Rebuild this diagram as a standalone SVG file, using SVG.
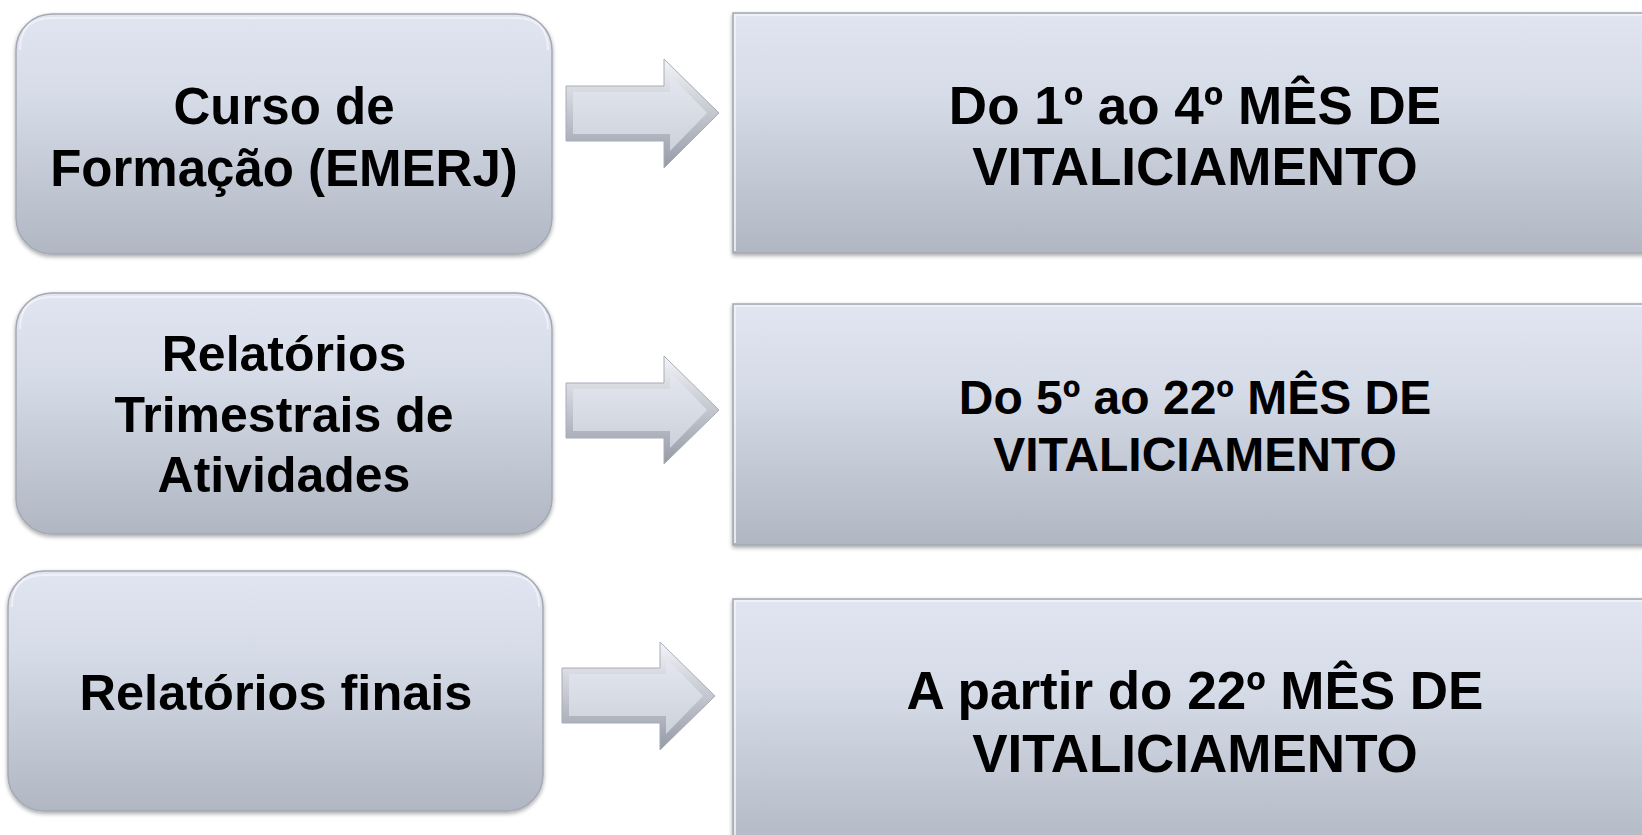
<svg xmlns="http://www.w3.org/2000/svg" width="1642" height="835" viewBox="0 0 1642 835">
<defs>
<linearGradient id="gBox" x1="0" y1="0" x2="0" y2="1">
<stop offset="0" stop-color="#e0e5f1"/>
<stop offset="0.35" stop-color="#d6dbe8"/>
<stop offset="1" stop-color="#b1b6c3"/>
</linearGradient>
<linearGradient id="gArrow" x1="0" y1="0" x2="0" y2="1">
<stop offset="0" stop-color="#e4e7ef"/>
<stop offset="1" stop-color="#cdd1db"/>
</linearGradient>
<linearGradient id="gArrowEdge" x1="0" y1="0" x2="0" y2="1">
<stop offset="0" stop-color="#f3f4f8"/>
<stop offset="1" stop-color="#959aa6"/>
</linearGradient>
<filter id="sh" x="-5%" y="-5%" width="110%" height="115%">
<feGaussianBlur in="SourceAlpha" stdDeviation="2"/>
<feOffset dy="2" result="b"/>
<feComponentTransfer><feFuncA type="linear" slope="0.35"/></feComponentTransfer>
<feMerge><feMergeNode/><feMergeNode in="SourceGraphic"/></feMerge>
</filter>
</defs>
<style>
.box{fill:url(#gBox);stroke:#a3a8b4;stroke-width:1.5;filter:url(#sh)}
.hl{fill:none;stroke:#f2f4f8;stroke-width:2;opacity:0.8}
.t{font-family:"Liberation Sans",Arial,sans-serif;font-weight:bold;fill:#000;text-anchor:middle}
.a-out{fill:url(#gArrowEdge);stroke:#a7acb8;stroke-width:1}
.a-in{fill:url(#gArrow)}
</style>
<rect width="1642" height="835" fill="#ffffff"/>

<g id="node-curso">
<rect class="box" x="16" y="14" width="536" height="240" rx="36"/>
<path class="hl" d="M20,50 Q20,18 52,18 L516,18 Q548,18 548,50"/>
<text class="t" font-size="51" x="284" y="124">Curso de</text>
<text class="t" font-size="51" x="284" y="186">Formação (EMERJ)</text>
</g>

<g id="node-relatorios-trimestrais">
<rect class="box" x="16" y="293" width="536" height="241" rx="36"/>
<path class="hl" d="M20,329 Q20,297 52,297 L516,297 Q548,297 548,329"/>
<text class="t" font-size="50" x="284" y="371">Relatórios</text>
<text class="t" font-size="50" x="284" y="432">Trimestrais de</text>
<text class="t" font-size="50" x="284" y="492">Atividades</text>
</g>

<g id="node-relatorios-finais">
<rect class="box" x="8" y="571" width="535" height="240" rx="36"/>
<path class="hl" d="M12,607 Q12,575 44,575 L507,575 Q539,575 539,607"/>
<text class="t" font-size="50.5" x="276" y="710">Relatórios finais</text>
</g>

<g id="node-mes-1-4">
<rect class="box" x="733" y="13" width="930" height="240"/>
<path class="hl" d="M735,251 L735,15 L1660,15"/>
<text class="t" font-size="53" x="1195" y="124">Do 1º ao 4º MÊS DE</text>
<text class="t" font-size="53" x="1195" y="185">VITALICIAMENTO</text>
</g>

<g id="node-mes-5-22">
<rect class="box" x="733" y="304" width="930" height="241"/>
<path class="hl" d="M735,543 L735,306 L1660,306"/>
<text class="t" font-size="48" x="1195" y="414">Do 5º ao 22º MÊS DE</text>
<text class="t" font-size="48" x="1195" y="471">VITALICIAMENTO</text>
</g>

<g id="node-mes-22">
<rect class="box" x="733" y="599" width="930" height="260"/>
<path class="hl" d="M735,857 L735,601 L1660,601"/>
<text class="t" font-size="53" x="1195" y="709">A partir do 22º MÊS DE</text>
<text class="t" font-size="53" x="1195" y="772">VITALICIAMENTO</text>
</g>

<g id="connectors">
<g id="arrow-1">
<polygon class="a-out" points="566,86 664,86 664,59 719,113 664,168 664,141 566,141"/>
<polygon class="a-in" points="573,92 670,92 670,75 707,113 670,151 670,134 573,134"/>
</g>
<g id="arrow-2">
<polygon class="a-out" points="566,383 664,383 664,356 719,410 664,464 664,438 566,438"/>
<polygon class="a-in" points="573,389 670,389 670,372 707,410 670,448 670,431 573,431"/>
</g>
<g id="arrow-3">
<polygon class="a-out" points="562,668 660,668 660,642 715,696 660,750 660,723 562,723"/>
<polygon class="a-in" points="569,674 666,674 666,658 703,696 666,734 666,716 569,716"/>
</g>
</g>
</svg>
